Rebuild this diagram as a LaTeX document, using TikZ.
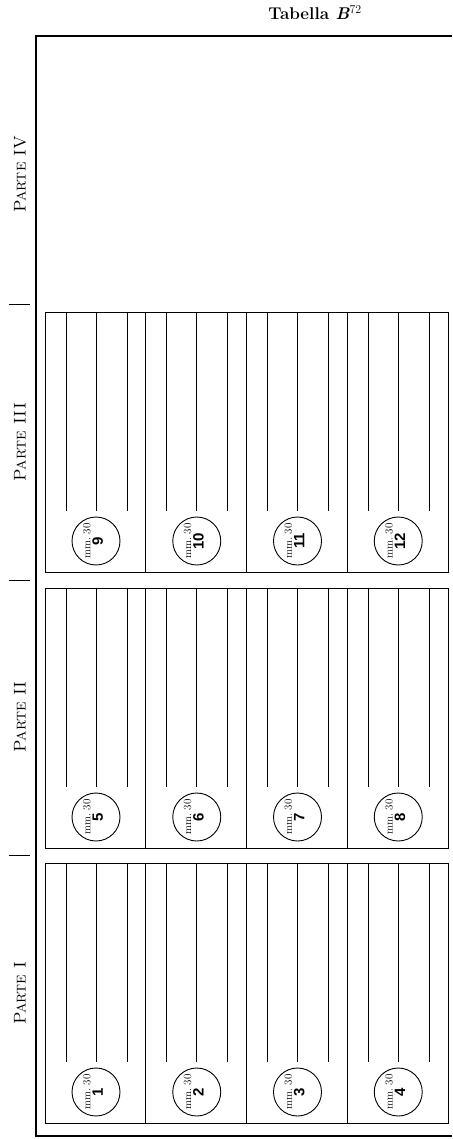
\documentclass[tikz,border=0pt]{standalone}
\usepackage{fontspec}
\newfontfamily\numfont{Liberation Sans}
\usetikzlibrary{positioning}

\begin{document}
\begin{tikzpicture}[
    x=1pt, y=-1pt,
    frame/.style={line width=2.2pt},
    panel/.style={draw, line width=0.9pt},
    rule/.style={line width=1pt},
    tickmark/.style={line width=1pt},
    disc/.style={draw, circle, line width=0.9pt, minimum size=48pt, inner sep=0pt},
    disctext/.style={rotate=90, align=center, inner sep=0pt, font=\fontsize{11}{12.5}\selectfont},
    partlabel/.style={rotate=90, inner sep=0pt, font=\fontsize{17}{17}\selectfont}
]
\useasboundingbox (0,0) rectangle (452,1139);

% Rahmen
\draw[frame] (452,36) -- (36,36) -- (36,1136) -- (452,1136);

% Titel
\node[anchor=base east, inner sep=0pt, font=\fontsize{17}{17}\selectfont\bfseries] (title) at (362,20)
    {Tabella \textit{B}\textsuperscript{\mdseries 72}};

% Beschriftung der Teile
\node[partlabel] (p4) at (20,174) {\textsc{Parte IV}};
\node[partlabel] (p3) at (20,442) {\textsc{Parte III}};
\node[partlabel] (p2) at (20,717) {\textsc{Parte II}};
\node[partlabel] (p1) at (20,993) {\textsc{Parte I}};

% Trennstriche
\foreach \y in {304,580,855}
    \draw[tickmark] (9,\y) -- (30,\y);

% Felder 1--12
\foreach \p/\top in {0/863, 1/588, 2/312} {
    \foreach \c in {0,...,3} {
        \pgfmathtruncatemacro\num{4*\p+\c+1}
        \pgfmathsetmacro\xl{45+100.75*\c}
        \draw[panel] (\xl,\top) rectangle ++(100.75,260);
        \foreach \d in {21,51,82}
            \draw[rule] (\xl+\d,\top) -- ++(0,199);
        \node[disc] (c\num) at (\xl+51,\top+229) {};
        \node[disctext] (t\num) at ([xshift=-3pt]c\num.center)
            {mm.~30\\{\numfont\bfseries\fontsize{15}{15}\selectfont\num}};
    }
}

\end{tikzpicture}
\end{document}
